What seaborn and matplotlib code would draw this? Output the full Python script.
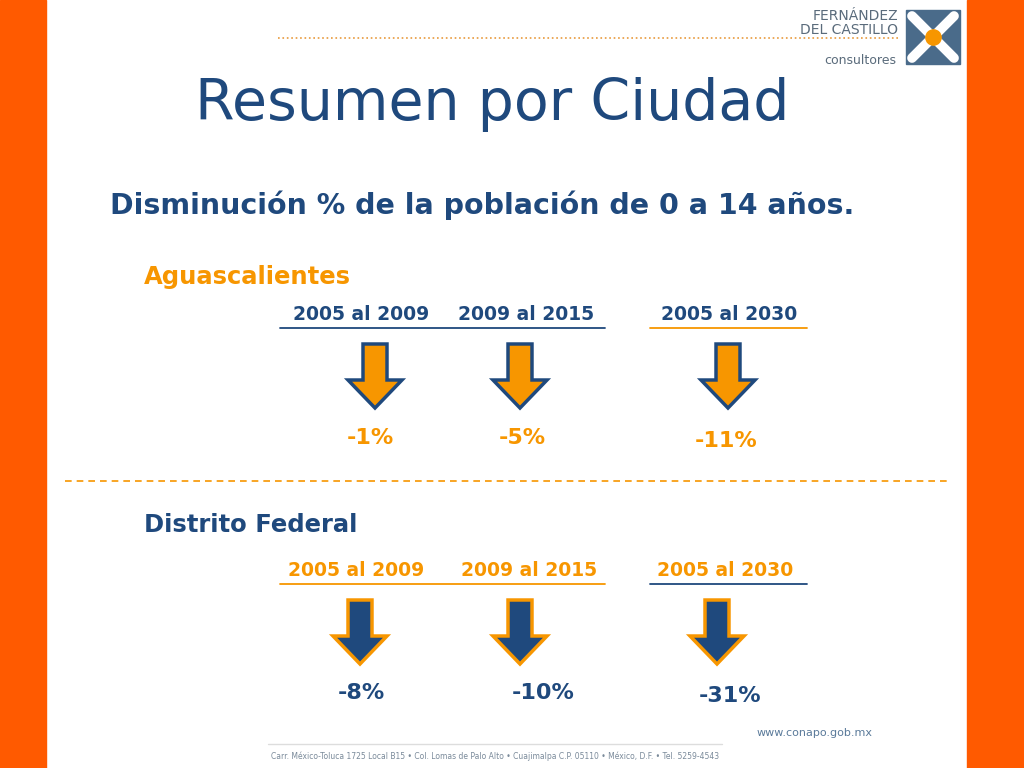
import matplotlib
matplotlib.use("Agg")
import matplotlib.pyplot as plt
from matplotlib.patches import Polygon, Rectangle
import seaborn as sns

sns.set_theme(style="white")

cities = ["Aguascalientes", "Distrito Federal"]
periods = ["2005 al 2009", "2009 al 2015", "2005 al 2030"]
values_ags = [-1, -5, -11]
values_df = [-8, -10, -31]

BLUE = "#1F497D"
ORANGE = "#F79600"
SIDE = "#FF5A00"

fig = plt.figure(figsize=(10.24, 7.68), dpi=100)
ax = fig.add_axes([0, 0, 1, 1])
ax.set_xlim(0, 1024); ax.set_ylim(768, 0); ax.axis("off")
ax.add_patch(Rectangle((0, 0), 46, 768, color=SIDE))
ax.add_patch(Rectangle((967, 0), 57, 768, color=SIDE))

# logo
ax.text(898, 16, "FERNÁNDEZ", ha="right", va="center", fontsize=10, color="#5A6B7B")
ax.text(898, 30, "DEL CASTILLO", ha="right", va="center", fontsize=10, color="#5A6B7B")
ax.text(896, 60, "consultores", ha="right", va="center", fontsize=9, color="#5A6B7B")
ax.plot([278, 900], [38, 38], ls=":", color="#E89A3C", lw=1.2)
ax.add_patch(Rectangle((906, 10), 54, 54, color="#4A6B8A"))
ax.plot([912, 954], [16, 58], color="white", lw=7)
ax.plot([912, 954], [58, 16], color="white", lw=7)
ax.plot([933], [37], "o", color=ORANGE, ms=11)

ax.text(492, 105, "Resumen por Ciudad", ha="center", va="center", fontsize=41, color=BLUE)
ax.text(482, 205, "Disminución % de la población de 0 a 14 años.", ha="center", va="center",
        fontsize=20.5, color=BLUE, fontweight="bold")
ax.plot([65, 950], [481, 481], ls=(0, (4, 3)), color=ORANGE, lw=1.2)

def arrow(xc, ytop, fill, edge):
    pts = [(xc - 12, ytop), (xc + 12, ytop), (xc + 12, ytop + 36), (xc + 27, ytop + 36),
           (xc, ytop + 64), (xc - 27, ytop + 36), (xc - 12, ytop + 36)]
    ax.add_patch(Polygon(pts, closed=True, facecolor=fill, edgecolor=edge, lw=2.5))

blocks = [
    dict(name=cities[0], vals=values_ags, ny=277, ty=314, ly=328, ay=344, vy=438,
         txtc=BLUE, valc=ORANGE, fill=ORANGE, edge=BLUE, line1=BLUE, line2=ORANGE,
         px=[361, 526, 729], ax_=[375, 520, 728], vx=[370, 522, 726]),
    dict(name=cities[1], vals=values_df, ny=525, ty=571, ly=584, ay=600, vy=693,
         txtc=ORANGE, valc=BLUE, fill=BLUE, edge=ORANGE, line1=ORANGE, line2=BLUE,
         px=[356, 529, 725], ax_=[360, 520, 717], vx=[361, 543, 730]),
]
for b in blocks:
    ax.text(144, b["ny"], b["name"], ha="left", va="center", fontsize=17.5, fontweight="bold",
            color=ORANGE if b["name"] == cities[0] else BLUE)
    for i, p in enumerate(periods):
        ax.text(b["px"][i], b["ty"], p, ha="center", va="center", fontsize=13.5,
                fontweight="bold", color=b["txtc"])
        arrow(b["ax_"][i], b["ay"], b["fill"], b["edge"])
        ax.text(b["vx"][i], b["vy"] + (3 if i == 2 else 0), f"{b['vals'][i]}%", ha="center",
                va="center", fontsize=16, fontweight="bold", color=b["valc"])
    ax.plot([280, 605], [b["ly"], b["ly"]], color=b["line1"], lw=1.3)
    ax.plot([650, 807], [b["ly"], b["ly"]], color=b["line2"], lw=1.3)

ax.text(815, 733, "www.conapo.gob.mx", ha="center", va="center", fontsize=8, color="#5A7A9A")
ax.plot([268, 722], [744, 744], color="#DDDDDD", lw=1)
ax.text(495, 756, "Carr. México-Toluca 1725 Local B15 • Col. Lomas de Palo Alto • Cuajimalpa C.P. 05110 • México, D.F. • Tel. 5259-4543",
        ha="center", va="center", fontsize=5.5, color="#7A8A9A")

fig.savefig("out.png", dpi=100, facecolor="white")
